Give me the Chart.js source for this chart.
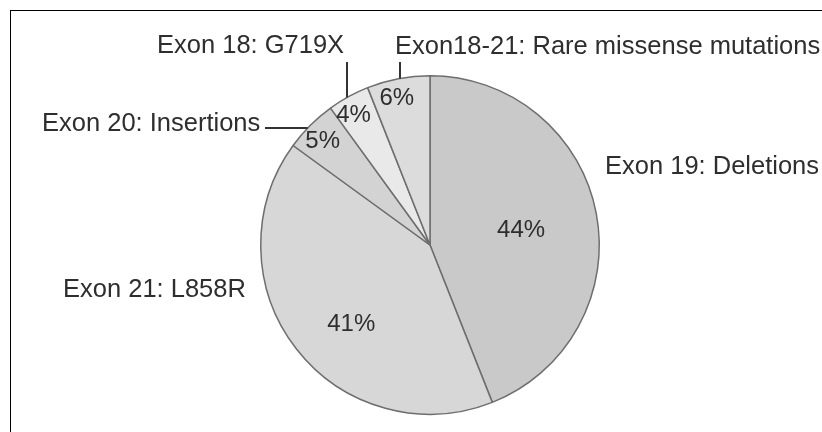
<!DOCTYPE html>
<html>
<head>
<meta charset="utf-8">
<script src="https://cdn.jsdelivr.net/npm/chart.js@4"></script>
<style>
  html, body { margin: 0; padding: 0; background: #fff; }
  #wrap { position: relative; width: 822px; height: 432px; overflow: hidden; }
  #frame { position: absolute; left: 10px; top: 10px; right: -2px; bottom: -2px;
           border-top: 1px solid #000; border-left: 1px solid #000; }
  canvas { position: absolute; left: 0; top: 0; }
</style>
</head>
<body>
<div id="wrap">
  <div id="frame"></div>
  <canvas id="pie" width="822" height="432"></canvas>
</div>
<script>
// EGFR mutation types, clockwise from 12 o'clock
const categories = [
    'Exon 19: Deletions',
    'Exon 21: L858R',
    'Exon 20: Insertions',
    'Exon 18: G719X',
    'Exon18-21: Rare missense mutations'
];
const shares = [44, 41, 5, 4, 6];
const sliceColors = ['#c9c9c9', '#d7d7d7', '#d3d3d3', '#e9e9e9', '#dcdcdc'];

// where the percentages sit: fraction along the slice's angle, fraction of the radius
const pctAngle = [0.51, 0.45, 0.44, 0.38, 0.41];
const pctRadius = [0.545, 0.66, 0.88, 0.89, 0.89];

// outer label placement: text left/baseline, plus kind of leader line
const outerLabels = [
    { x: 605, y: 174, leader: null },
    { x: 63,  y: 297, leader: null },
    { x: 42,  y: 131, leader: { dir: 'h', from: 265, at: 128 } },
    { x: 157, y: 53,  leader: { dir: 'v', from: 62,  at: 347 } },
    { x: 395, y: 54,  leader: { dir: 'v', from: 62,  at: 400 } }
];

const labelPlugin = {
    id: 'pieLabels',
    afterDatasetsDraw(chart) {
        const ctx = chart.ctx;
        const arcs = chart.getDatasetMeta(0).data;
        ctx.save();
        ctx.fillStyle = '#2e2e2e';

        // percentages inside the slices
        ctx.font = '24px "Liberation Sans", Arial, sans-serif';
        ctx.textAlign = 'center';
        ctx.textBaseline = 'middle';
        arcs.forEach((arc, i) => {
            const p = arc.getProps(['x', 'y', 'startAngle', 'endAngle', 'outerRadius']);
            const a = p.startAngle + (p.endAngle - p.startAngle) * pctAngle[i];
            const r = p.outerRadius * pctRadius[i];
            ctx.fillText(shares[i] + '%', p.x + Math.cos(a) * r, p.y + Math.sin(a) * r);
        });

        // category names + leader lines
        ctx.font = '25.5px "Liberation Sans", Arial, sans-serif';
        ctx.textAlign = 'left';
        ctx.textBaseline = 'alphabetic';
        ctx.strokeStyle = '#333';
        ctx.lineWidth = 2;
        const c = arcs[0].getProps(['x', 'y', 'outerRadius']);
        outerLabels.forEach((lab, i) => {
            ctx.fillText(categories[i], lab.x, lab.y);
            const L = lab.leader;
            if (!L) return;
            ctx.beginPath();
            if (L.dir === 'v') {
                const dx = L.at - c.x;
                const yEdge = c.y - Math.sqrt(c.outerRadius * c.outerRadius - dx * dx);
                ctx.moveTo(L.at, L.from);
                ctx.lineTo(L.at, yEdge);
            } else {
                const dy = L.at - c.y;
                const xEdge = c.x - Math.sqrt(c.outerRadius * c.outerRadius - dy * dy);
                ctx.moveTo(L.from, L.at);
                ctx.lineTo(xEdge, L.at);
            }
            ctx.stroke();
        });
        ctx.restore();
    }
};

new Chart(document.getElementById('pie'), {
    type: 'pie',
    data: {
        labels: categories,
        datasets: [{
            data: shares,
            backgroundColor: sliceColors,
            borderColor: '#6e6e6e',
            borderWidth: 1.5
        }]
    },
    options: {
        responsive: false,
        animation: false,
        layout: { padding: { left: 260, right: 222, top: 75, bottom: 17 } },
        plugins: {
            legend: { display: false },
            tooltip: { enabled: false }
        }
    },
    plugins: [labelPlugin]
});
</script>
</body>
</html>
